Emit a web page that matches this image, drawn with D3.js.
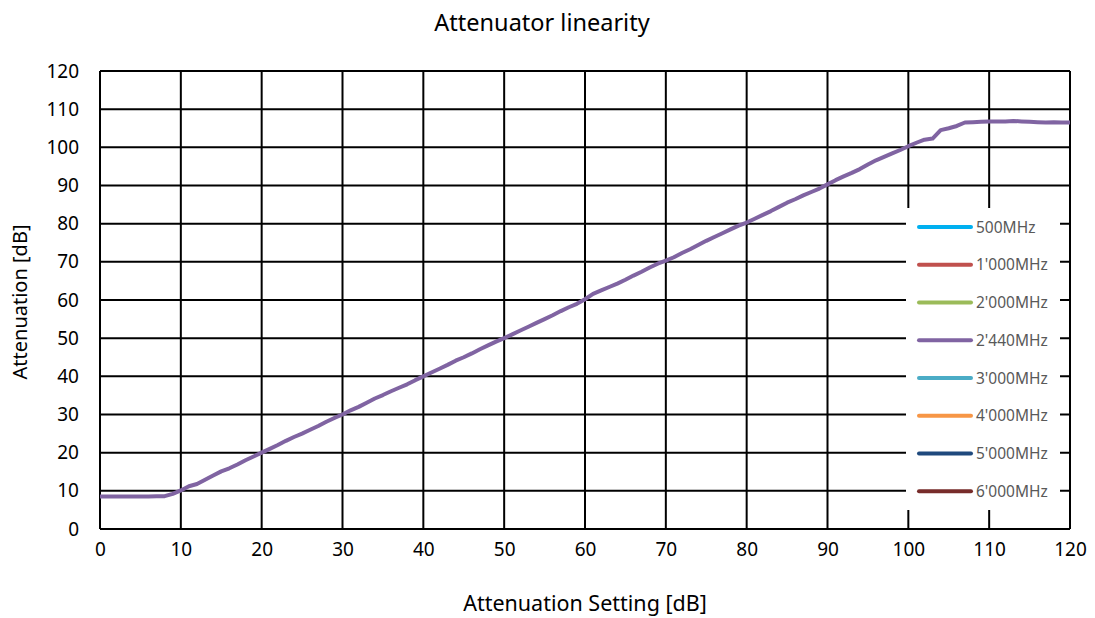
<!DOCTYPE html>
<html>
<head>
<meta charset="utf-8">
<script src="https://cdn.jsdelivr.net/npm/d3@7"></script>
<style>
  body { margin: 0; background: #fff; }
  svg text { font-family: "Noto Sans", "Open Sans", sans-serif; }
</style>
</head>
<body>
<svg id="chart" width="1095" height="618"></svg>
<script>
// attenuation setting [dB]
const settings = d3.range(0, 121);

// measured attenuation [dB] at 2'440MHz (other bands lie on top of it)
const attenuation2440 = [
  8.5, 8.5, 8.5, 8.5, 8.5, 8.5, 8.5, 8.6, 8.6, 9.2,
  10.1, 11.2, 11.8, 12.9, 14.0, 15.1, 15.9, 16.9, 18.0, 19.0,
  20.0, 21.0, 22.0, 23.1, 24.1, 25.0, 26.0, 27.0, 28.1, 29.1,
  30.0, 31.1, 32.0, 33.1, 34.2, 35.1, 36.1, 37.0, 37.9, 39.0,
  40.0, 41.0, 42.0, 43.0, 44.1, 45.0, 46.0, 47.1, 48.1, 49.1,
  50.0, 51.0, 52.0, 53.0, 54.0, 55.0, 56.0, 57.1, 58.1, 59.0,
  60.2, 61.6, 62.5, 63.4, 64.3, 65.3, 66.4, 67.4, 68.5, 69.5,
  70.3, 71.2, 72.3, 73.3, 74.4, 75.5, 76.5, 77.5, 78.5, 79.5,
  80.3, 81.3, 82.3, 83.3, 84.4, 85.5, 86.4, 87.4, 88.3, 89.2,
  90.3, 91.4, 92.4, 93.3, 94.3, 95.5, 96.6, 97.5, 98.4, 99.3,
  100.3, 101.2, 102.0, 102.3, 104.5, 105.0, 105.6, 106.5, 106.6, 106.7,
  106.8, 106.8, 106.8, 106.9, 106.8, 106.7, 106.6, 106.5, 106.6, 106.5,
  106.5
];

const seriesNames = ["500MHz", "1'000MHz", "2'000MHz", "2'440MHz", "3'000MHz", "4'000MHz", "5'000MHz", "6'000MHz"];
const seriesColors = ["#00B0F0", "#C0504D", "#9BBB59", "#8064A2", "#4BACC6", "#F79646", "#1F497D", "#772C2A"];

const xTicks = d3.range(0, 121, 10);
const yTicks = d3.range(0, 121, 10);

const width = 1095, height = 618;
const margin = { top: 71, right: 25, bottom: 89, left: 100 };
const w = width - margin.left - margin.right;
const h = height - margin.top - margin.bottom;

const svg = d3.select("#chart");
const g = svg.append("g").attr("transform", "translate(" + margin.left + "," + margin.top + ")");

const x = d3.scaleLinear().domain([0, 120]).range([0, w]);
const y = d3.scaleLinear().domain([0, 120]).range([h, 0]);

// grid
g.append("g").selectAll("line").data(yTicks).enter().append("line")
  .attr("x1", 0).attr("x2", w)
  .attr("y1", d => y(d)).attr("y2", d => y(d))
  .attr("stroke", "#000").attr("stroke-width", 2);
g.append("g").selectAll("line").data(xTicks).enter().append("line")
  .attr("x1", d => x(d)).attr("x2", d => x(d))
  .attr("y1", 0).attr("y2", h)
  .attr("stroke", "#000").attr("stroke-width", 2);

// axes labels only
const xAxis = g.append("g").attr("transform", "translate(0," + h + ")")
  .call(d3.axisBottom(x).tickValues(xTicks).tickSize(0).tickPadding(14));
const yAxis = g.append("g")
  .call(d3.axisLeft(y).tickValues(yTicks).tickSize(0).tickPadding(21));
[xAxis, yAxis].forEach(a => {
  a.select(".domain").remove();
  a.selectAll("text").attr("font-size", 19).attr("fill", "#000")
    .style("font-family", "'Noto Sans', sans-serif");
});

// data line
const line = d3.line().x((d, i) => x(settings[i])).y(d => y(d));
g.append("path")
  .datum(attenuation2440)
  .attr("fill", "none")
  .attr("stroke", seriesColors[3])
  .attr("stroke-width", 4)
  .attr("stroke-linejoin", "round")
  .attr("d", line);

// legend
const lg = svg.append("g").attr("transform", "translate(906,208)");
lg.append("rect").attr("width", 154).attr("height", 302).attr("fill", "#fff");
const items = lg.selectAll("g.item").data(seriesNames).enter().append("g")
  .attr("transform", (d, i) => "translate(0," + (19 + i * 37.75) + ")");
items.append("line")
  .attr("x1", 13).attr("x2", 65).attr("y1", 0).attr("y2", 0)
  .attr("stroke", (d, i) => seriesColors[i])
  .attr("stroke-width", 4).attr("stroke-linecap", "round");
items.append("text")
  .attr("x", 70).attr("y", 5.5)
  .attr("font-size", 15.5).attr("fill", "#595959")
  .text(d => d);

// titles
svg.append("text").attr("x", 542).attr("y", 31).attr("text-anchor", "middle")
  .attr("font-size", 23.5).attr("fill", "#000").text("Attenuator linearity");
svg.append("text").attr("x", 585).attr("y", 611).attr("text-anchor", "middle")
  .attr("font-size", 21.5).attr("fill", "#000").text("Attenuation Setting [dB]");
svg.append("text").attr("transform", "translate(27,302) rotate(-90)").attr("text-anchor", "middle")
  .attr("font-size", 20).attr("fill", "#000").text("Attenuation [dB]");
</script>
</body>
</html>
